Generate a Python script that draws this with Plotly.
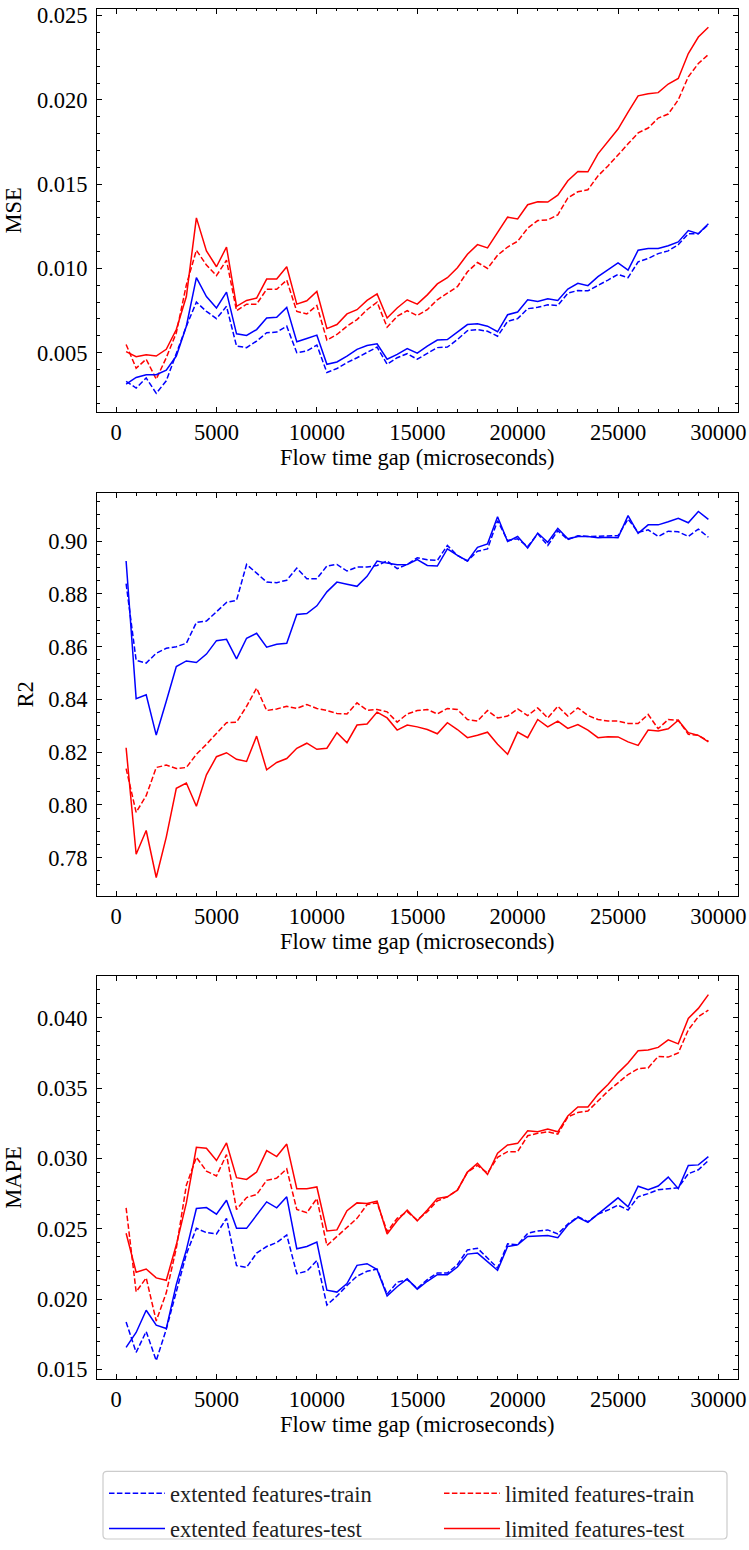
import plotly.graph_objects as go

# Flow time gap values (microseconds)
gap = list(range(500, 30000, 500))

# ---- MSE ----
mse_ext_train = [0.0033, 0.0029, 0.0035, 0.00259, 0.00333, 0.0049, 0.00657, 0.0080, 0.00745, 0.00702,
                 0.00775, 0.00539, 0.0053, 0.00569, 0.00618, 0.00622, 0.00657, 0.0050, 0.0051, 0.00545,
                 0.00382, 0.00406, 0.00441, 0.0047, 0.00504, 0.00533, 0.00431, 0.0047, 0.00494, 0.00461,
                 0.00496, 0.0053, 0.00533, 0.00578, 0.00631, 0.00637, 0.00627, 0.00598, 0.00686, 0.00702,
                 0.00761, 0.00769, 0.00784, 0.0078, 0.00853, 0.00869, 0.00867, 0.00898, 0.00931, 0.00965,
                 0.00945, 0.01039, 0.01059, 0.01088, 0.01104, 0.01141, 0.01206, 0.01206, 0.01261]
mse_ext_test = [0.00314, 0.00353, 0.00369, 0.00369, 0.00396, 0.0048, 0.00657, 0.00945, 0.00833, 0.00765,
                0.00859, 0.00612, 0.00602, 0.00637, 0.00706, 0.0071, 0.00769, 0.00565, 0.00584, 0.00604,
                0.00431, 0.00445, 0.0048, 0.0052, 0.00543, 0.00553, 0.00461, 0.0049, 0.00524, 0.00497,
                0.00539, 0.00575, 0.00578, 0.00622, 0.00667, 0.00671, 0.00657, 0.00624, 0.00725, 0.00741,
                0.00814, 0.00804, 0.0082, 0.0081, 0.00878, 0.00912, 0.00898, 0.00951, 0.0099, 0.01033,
                0.0099, 0.01108, 0.01118, 0.01118, 0.01135, 0.01157, 0.01225, 0.01206, 0.01265]
mse_lim_train = [0.00549, 0.00408, 0.00461, 0.00343, 0.0047, 0.00618, 0.00902, 0.01108, 0.0102, 0.00957,
                 0.01049, 0.00749, 0.00788, 0.00788, 0.00876, 0.00876, 0.00931, 0.00745, 0.0073, 0.0078,
                 0.00575, 0.00608, 0.00657, 0.00696, 0.00755, 0.0080, 0.00651, 0.00716, 0.00749, 0.0072,
                 0.00755, 0.00814, 0.00853, 0.00892, 0.0098, 0.01035, 0.0100, 0.01078, 0.01127, 0.01161,
                 0.01239, 0.01284, 0.01288, 0.01318, 0.01418, 0.01455, 0.01467, 0.01549, 0.01608, 0.01671,
                 0.01739, 0.01804, 0.01833, 0.01892, 0.01916, 0.0200, 0.02137, 0.02216, 0.02269]
mse_lim_test = [0.00506, 0.00476, 0.00488, 0.0048, 0.0052, 0.00637, 0.00833, 0.0130, 0.01104, 0.0101,
                0.01127, 0.00775, 0.0081, 0.00824, 0.00937, 0.00937, 0.0101, 0.00788, 0.00808, 0.00863,
                0.00643, 0.00667, 0.0073, 0.00755, 0.0081, 0.00849, 0.00706, 0.00765, 0.00814, 0.00788,
                0.00843, 0.00908, 0.00945, 0.01004, 0.01084, 0.01141, 0.01122, 0.01212, 0.01304, 0.01294,
                0.01378, 0.01396, 0.01394, 0.01435, 0.0152, 0.01575, 0.01573, 0.0168, 0.01755, 0.01827,
                0.01927, 0.02024, 0.02037, 0.02043, 0.02094, 0.02127, 0.02275, 0.02373, 0.02431]

# ---- R2 ----
r2_ext_train = [0.8839, 0.8548, 0.8538, 0.8575, 0.8594, 0.8600, 0.8613, 0.8692, 0.8697, 0.8732,
                0.8768, 0.8776, 0.8912, 0.8879, 0.8845, 0.8843, 0.8852, 0.8898, 0.8858, 0.8858,
                0.8906, 0.8912, 0.8887, 0.8902, 0.8902, 0.8908, 0.8925, 0.8896, 0.8912, 0.8937,
                0.8930, 0.8927, 0.8984, 0.8946, 0.8925, 0.8962, 0.8971, 0.9078, 0.9003, 0.9009,
                0.8980, 0.9028, 0.8984, 0.9040, 0.9006, 0.9021, 0.9018, 0.9019, 0.9021, 0.9021,
                0.9084, 0.9034, 0.9043, 0.9018, 0.9038, 0.9036, 0.9018, 0.9046, 0.9015]
r2_ext_test = [0.8925, 0.8403, 0.8418, 0.8265, 0.8393, 0.8525, 0.8546, 0.8540, 0.8572, 0.8623,
               0.8628, 0.8554, 0.8632, 0.8651, 0.8598, 0.8609, 0.8613, 0.8722, 0.8726, 0.8755,
               0.8808, 0.8845, 0.8837, 0.8829, 0.8867, 0.8925, 0.8917, 0.8911, 0.8912, 0.8930,
               0.8908, 0.8906, 0.8971, 0.8946, 0.8925, 0.8977, 0.8990, 0.9093, 0.8999, 0.9018,
               0.8974, 0.9031, 0.8996, 0.9049, 0.9009, 0.9018, 0.9018, 0.9013, 0.9015, 0.9013,
               0.9097, 0.9030, 0.9062, 0.9062, 0.9074, 0.9087, 0.9070, 0.9113, 0.9083]
r2_lim_train = [0.8138, 0.7972, 0.8035, 0.8142, 0.8151, 0.8138, 0.8142, 0.8192, 0.8230, 0.8271,
                0.8312, 0.8314, 0.8374, 0.8443, 0.8358, 0.8364, 0.8374, 0.8366, 0.8381, 0.8366,
                0.8358, 0.8347, 0.8345, 0.8387, 0.8359, 0.8362, 0.8353, 0.8314, 0.8345, 0.8358,
                0.8362, 0.8345, 0.8366, 0.8362, 0.8324, 0.8318, 0.8358, 0.8330, 0.8337, 0.8364,
                0.8339, 0.8368, 0.8330, 0.8374, 0.8337, 0.8368, 0.8339, 0.8324, 0.8318, 0.8318,
                0.8309, 0.8309, 0.8343, 0.8289, 0.8324, 0.8321, 0.8268, 0.8264, 0.8242]
r2_lim_test = [0.8217, 0.7813, 0.7903, 0.7725, 0.7878, 0.8063, 0.8083, 0.7995, 0.8114, 0.8183,
               0.8198, 0.8173, 0.8165, 0.8261, 0.8133, 0.8161, 0.8176, 0.8215, 0.8234, 0.8211,
               0.8215, 0.8274, 0.8236, 0.8303, 0.8307, 0.8352, 0.8330, 0.8284, 0.8303, 0.8296,
               0.8286, 0.8270, 0.8312, 0.8286, 0.8255, 0.8264, 0.8276, 0.8230, 0.8192, 0.8276,
               0.8255, 0.8324, 0.8296, 0.8318, 0.8290, 0.8305, 0.8284, 0.8255, 0.8259, 0.8258,
               0.8239, 0.8226, 0.8284, 0.8280, 0.8289, 0.8321, 0.8274, 0.8264, 0.8239]

# ---- MAPE ----
mape_ext_train = [0.01838, 0.01622, 0.0177, 0.01563, 0.01786, 0.02045, 0.0232, 0.02503, 0.02473, 0.02463,
                  0.02574, 0.02238, 0.02226, 0.02327, 0.02374, 0.02402, 0.02456, 0.02181, 0.02198, 0.02275,
                  0.01958, 0.02022, 0.02097, 0.02163, 0.02198, 0.02214, 0.02035, 0.0212, 0.02139, 0.02077,
                  0.02139, 0.02186, 0.02186, 0.02245, 0.0235, 0.02362, 0.02292, 0.02221, 0.02393, 0.02386,
                  0.02468, 0.02484, 0.02492, 0.02463, 0.02534, 0.02586, 0.0255, 0.02604, 0.02633, 0.02668,
                  0.02633, 0.02727, 0.0275, 0.02778, 0.02785, 0.02792, 0.02891, 0.02919, 0.02985]
mape_ext_test = [0.01657, 0.01763, 0.01921, 0.01815, 0.01791, 0.02104, 0.0235, 0.02644, 0.02651, 0.02604,
                 0.02703, 0.02503, 0.02503, 0.02597, 0.02691, 0.02649, 0.02727, 0.02358, 0.02374, 0.02405,
                 0.02064, 0.0205, 0.02111, 0.0224, 0.02252, 0.0221, 0.02022, 0.02088, 0.02144, 0.02071,
                 0.02127, 0.02174, 0.02174, 0.02228, 0.0232, 0.02327, 0.02268, 0.02205, 0.02374, 0.02386,
                 0.02445, 0.02449, 0.02452, 0.02437, 0.02527, 0.02581, 0.02546, 0.02604, 0.02661, 0.0272,
                 0.02656, 0.02802, 0.02778, 0.02804, 0.02867, 0.02785, 0.0295, 0.02954, 0.03013]
mape_lim_train = [0.02649, 0.02052, 0.02151, 0.01845, 0.02045, 0.02362, 0.02809, 0.03008, 0.0291, 0.02875,
                  0.03027, 0.02637, 0.02722, 0.02743, 0.02844, 0.0286, 0.02926, 0.02637, 0.02614, 0.02715,
                  0.02381, 0.02445, 0.02503, 0.02574, 0.02672, 0.02684, 0.0248, 0.02574, 0.02621, 0.02562,
                  0.02621, 0.02698, 0.02727, 0.02774, 0.02903, 0.0295, 0.02896, 0.03008, 0.03048, 0.03048,
                  0.03161, 0.03178, 0.03189, 0.03173, 0.03295, 0.03326, 0.03337, 0.03408, 0.03478, 0.03537,
                  0.03596, 0.03638, 0.03643, 0.03725, 0.0372, 0.03749, 0.03913, 0.04007, 0.04054]
mape_lim_test = [0.02468, 0.02191, 0.02214, 0.02151, 0.02134, 0.02386, 0.02684, 0.03079, 0.03072, 0.02985,
                 0.0311, 0.02863, 0.02851, 0.02903, 0.03055, 0.03013, 0.03102, 0.02785, 0.02785, 0.02797,
                 0.02484, 0.02492, 0.02628, 0.02684, 0.0268, 0.02696, 0.02463, 0.02557, 0.02633, 0.02556,
                 0.02633, 0.02715, 0.02727, 0.02774, 0.02903, 0.02966, 0.02886, 0.03037, 0.03095, 0.03107,
                 0.03196, 0.03189, 0.03208, 0.03189, 0.03302, 0.03366, 0.03366, 0.03455, 0.03525, 0.03608,
                 0.03678, 0.03765, 0.0377, 0.03789, 0.03843, 0.03814, 0.03995, 0.04066, 0.04164]

series_names = ["extented features-train", "limited features-train",
                "extented features-test", "limited features-test"]
x_ticks = [0, 5000, 10000, 15000, 20000, 25000, 30000]
x_label = "Flow time gap (microseconds)"

panels = [
    ("MSE", [mse_ext_train, mse_lim_train, mse_ext_test, mse_lim_test], ".3f", 0.005, 0.001),
    ("R2", [r2_ext_train, r2_lim_train, r2_ext_test, r2_lim_test], ".2f", 0.02, 0.005),
    ("MAPE", [mape_ext_train, mape_lim_train, mape_ext_test, mape_lim_test], ".3f", 0.005, 0.001),
]

W, H = 749, 1550
FONT = "Liberation Serif"
FS = 22.5
colors = ["#0000ff", "#ff0000", "#0000ff", "#ff0000"]
dashes = ["5.5px,2.4px", "5.5px,2.4px", "solid", "solid"]
# extended-feature entries go in the left legend column, limited-feature ones in the right
legend_col = ["legend", "legend2", "legend", "legend2"]

# plot boxes in pixels: (top, bottom)
boxes = [(9, 414), (496, 901), (982, 1387)]
x_dom = [97 / W, 737.5 / W]

fig = go.Figure()

pad_x = (gap[-1] - gap[0]) * 0.05
x_range = [gap[0] - pad_x, gap[-1] + pad_x]

for i, (ylab, data, fmt, dt, mdt) in enumerate(panels):
    n = "" if i == 0 else str(i + 1)
    for k, ys in enumerate(data):
        fig.add_trace(go.Scatter(
            x=gap, y=ys, mode="lines", name=series_names[k],
            line=dict(color=colors[k], width=1.5, dash=dashes[k]),
            xaxis="x" + n, yaxis="y" + n,
            showlegend=(i == 0), legend=legend_col[k], legendgroup=str(k),
        ))
    lo = min(min(s) for s in data)
    hi = max(max(s) for s in data)
    pad = (hi - lo) * 0.05
    top, bot = boxes[i]
    common = dict(
        showline=True, linecolor="black", linewidth=1, mirror="allticks",
        ticks="inside", ticklen=5, tickwidth=1, tickcolor="black",
        showgrid=False, zeroline=False, automargin=False,
        tickfont=dict(family=FONT, size=FS, color="black"),
        minor=dict(ticks="inside", ticklen=2.5, tickwidth=1, tickcolor="black", showgrid=False),
    )
    fig.layout["xaxis" + n] = dict(
        common, domain=x_dom, anchor="y" + n, range=x_range,
        tickmode="array", tickvals=x_ticks, ticktext=[str(v) for v in x_ticks],
        minor=dict(common["minor"], dtick=1000, tick0=0),
        title=dict(text=x_label, font=dict(family=FONT, size=FS, color="black"), standoff=4),
    )
    fig.layout["yaxis" + n] = dict(
        common, domain=[1 - bot / H, 1 - top / H], anchor="x" + n,
        range=[lo - pad, hi + pad], tickformat=fmt, dtick=dt, tick0=0,
        minor=dict(common["minor"], dtick=mdt, tick0=0),
        title=dict(text=ylab, font=dict(family=FONT, size=FS, color="black"), standoff=8),
        ticklabelstandoff=4,
    )

legend_style = dict(
    orientation="v", yanchor="top", xanchor="left", y=1 - 1481 / H,
    borderwidth=0, bgcolor="rgba(0,0,0,0)", itemwidth=56, tracegroupgap=3,
    font=dict(family=FONT, size=FS, color="#222222"),
)

# rounded frame around the two legend columns (pixel corners -> paper coords)
bx0, bx1, by0, by1, r = 103, 727, 1480, 1548, 4


def px(x, y):
    return f"{x / W:.5f},{1 - y / H:.5f}"


frame = (f"M{px(bx0 + r, by0)} L{px(bx1 - r, by0)} Q{px(bx1, by0)} {px(bx1, by0 + r)} "
         f"L{px(bx1, by1 - r)} Q{px(bx1, by1)} {px(bx1 - r, by1)} L{px(bx0 + r, by1)} "
         f"Q{px(bx0, by1)} {px(bx0, by1 - r)} L{px(bx0, by0 + r)} Q{px(bx0, by0)} {px(bx0 + r, by0)} Z")

fig.update_layout(
    width=W, height=H,
    margin=dict(l=0, r=0, t=0, b=0),
    paper_bgcolor="white", plot_bgcolor="white",
    showlegend=True,
    legend=dict(legend_style, x=104 / W),
    legend2=dict(legend_style, x=439 / W),
    shapes=[dict(type="path", xref="paper", yref="paper", path=frame,
                 line=dict(color="#cccccc", width=1.2), fillcolor="rgba(0,0,0,0)", layer="below")],
)

fig.write_html("out.html")
